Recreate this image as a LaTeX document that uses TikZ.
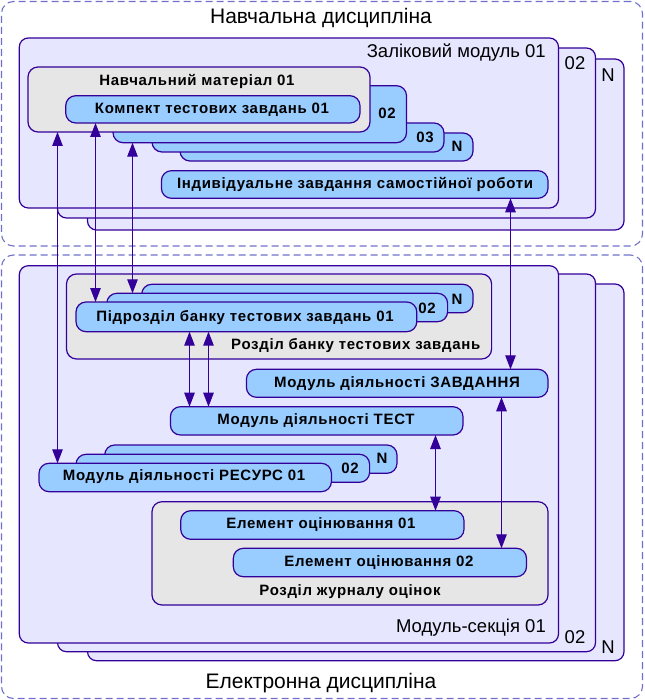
\documentclass[tikz,border=0pt]{standalone}
\usepackage{fontspec}
\setmainfont{Liberation Sans}
\newfontfamily\boxfont[LetterSpace=4.5]{Liberation Sans}
\usetikzlibrary{arrows.meta}
\definecolor{bord}{RGB}{51,0,153}
\definecolor{lav}{RGB}{230,230,255}
\definecolor{lblue}{RGB}{153,204,255}
\definecolor{lgray}{RGB}{230,230,230}
\definecolor{dashc}{RGB}{112,112,204}
\newcommand\mybox[6]{\node[#2, minimum width={(#5-#3)*1pt}, minimum height={(#6-#4)*1pt}] (#1) at ({(#3+#5)/2},{(#4+#6)/2}) {};}
\tikzset{
  base/.style={draw=bord, line width=1.2pt, inner sep=0pt, outer sep=0pt, rectangle},
  modbox/.style={base, fill=lav, rounded corners=9pt},
  graybox/.style={base, fill=lgray, rounded corners=10pt},
  bluebox/.style={base, fill=lblue, rounded corners=10pt},
  outerbox/.style={draw=dashc, line width=1.1pt, dash pattern=on 7pt off 4pt, rounded corners=12pt, inner sep=0pt, outer sep=0pt, rectangle},
  btxt/.style={inner sep=0pt, font=\boxfont\fontsize{15}{17}\selectfont\bfseries},
  mtxt/.style={inner sep=0pt, font=\fontsize{18.5}{20}\selectfont},
  ttxt/.style={inner sep=0pt, font=\fontsize{21}{23}\selectfont},
  conn/.style={draw=bord, line width=1.1pt, {Triangle[length=14pt,width=10.5pt]}-{Triangle[length=14pt,width=10.5pt]}}
}
\begin{document}
\begin{tikzpicture}[x=1pt,y=-1pt]
\useasboundingbox (0,0) rectangle (644,700);
% outer dashed boxes
\mybox{nd}{outerbox}{1.5}{1.5}{642.5}{246}
\node[ttxt] (ndt) at (321,18) {Навчальна дисципліна};
\mybox{ed}{outerbox}{1.5}{255}{642.5}{698.5}
\node[ttxt] (edt) at (321,683) {Електронна дисципліна};
% top modules
\mybox{zmN}{modbox}{87.5}{59}{624}{230}
\node[mtxt] (zmNt) at (608,75) {N};
\mybox{zm2}{modbox}{57.5}{48}{595.5}{218}
\node[mtxt] (zm2t) at (575,63) {02};
\mybox{zm1}{modbox}{19.3}{38}{558.5}{208}
\node[mtxt, anchor=east] (zm1t) at (546,53) {Заліковий модуль 01};
% stacked blue boxes
\mybox{kN}{bluebox}{180}{133}{473}{161}
\node[btxt] (kNt) at (457,146) {N};
\mybox{k3}{bluebox}{152}{123}{444}{152}
\node[btxt] (k3t) at (425,137) {03};
\mybox{k2}{bluebox}{113}{85.7}{406.5}{142.7}
\node[btxt] (k2t) at (387,113) {02};
\mybox{nm1}{graybox}{28}{67}{370}{132}
\node[btxt] (nm1t) at (197,81) {Навчальний матеріал 01};
\mybox{k1}{bluebox}{65.7}{95.7}{360}{123}
\node[btxt] (k1t) at (212,109.5) {Компект тестових завдань 01};
\mybox{ind}{bluebox}{161.4}{170.7}{548}{198.3}
\node[btxt] (indt) at (355,184.5) {Індивідуальне завдання самостійної роботи};
% lower modules
\mybox{msN}{modbox}{87.5}{284}{624}{660.7}
\node[mtxt] (msNt) at (608,647) {N};
\mybox{ms2}{modbox}{57.5}{274}{595.5}{651.7}
\node[mtxt] (ms2t) at (575,637) {02};
\mybox{ms1}{modbox}{19.3}{265.7}{558.5}{643}
\node[mtxt, anchor=east] (ms1t) at (546,628) {Модуль-секція 01};
% bank section
\mybox{rb}{graybox}{66.5}{274}{491.6}{359}
\node[btxt, anchor=east] (rbt) at (480.5,346) {Розділ банку тестових завдань};
\mybox{pN}{bluebox}{141.7}{284.3}{473}{312.7}
\node[btxt] (pNt) at (457,299) {N};
\mybox{p2}{bluebox}{106.8}{293.3}{447.6}{321.7}
\node[btxt] (p2t) at (427,308) {02};
\mybox{p1}{bluebox}{76}{302}{416.8}{331.7}
\node[btxt] (p1t) at (245,317.5) {Підрозділ банку тестових завдань 01};
% activity modules
\mybox{zav}{bluebox}{246.4}{369.3}{548}{397.3}
\node[btxt] (zavt) at (397,383.5) {Модуль діяльності ЗАВДАННЯ};
\mybox{tst}{bluebox}{170.4}{406.7}{463}{435}
\node[btxt] (tstt) at (316,421) {Модуль діяльності ТЕСТ};
\mybox{rN}{bluebox}{104.7}{445}{397}{473.3}
\node[btxt] (rNt) at (382,458) {N};
\mybox{r2}{bluebox}{76}{454.3}{369.6}{482.3}
\node[btxt] (r2t) at (350,468) {02};
\mybox{r1}{bluebox}{39}{463.3}{331.4}{491.7}
\node[btxt] (r1t) at (184,477) {Модуль діяльності РЕСУРС 01};
% grade book
\mybox{zh}{graybox}{152}{501.7}{548}{605}
\node[btxt] (zht) at (350,591.5) {Розділ журналу оцінок};
\mybox{e1}{bluebox}{180.7}{510.7}{464}{539.3}
\node[btxt] (e1t) at (321,525) {Елемент оцінювання 01};
\mybox{e2}{bluebox}{233.3}{548.3}{526.5}{576.7}
\node[btxt] (e2t) at (379,562.7) {Елемент оцінювання 02};
% connector x positions
\coordinate (xa) at (57.5,0);
\coordinate (xb) at (95.5,0);
\coordinate (xc) at (132.5,0);
\coordinate (xd) at (510.5,0);
\coordinate (xe) at (189.5,0);
\coordinate (xf) at (208.5,0);
\coordinate (xg) at (435.5,0);
\coordinate (xh) at (501.5,0);
% connectors
\draw[conn] (nm1.south -| xa) -- (r1.north -| xa);
\draw[conn] (k1.south -| xb) -- (p1.north -| xb);
\draw[conn] (k2.south -| xc) -- (p2.north -| xc);
\draw[conn] (ind.south -| xd) -- (zav.north -| xd);
\draw[conn] (p1.south -| xe) -- (tst.north -| xe);
\draw[conn] (p1.south -| xf) -- (tst.north -| xf);
\draw[conn] (tst.south -| xg) -- (e1.north -| xg);
\draw[conn] (zav.south -| xh) -- (e2.north -| xh);
\end{tikzpicture}
\end{document}
